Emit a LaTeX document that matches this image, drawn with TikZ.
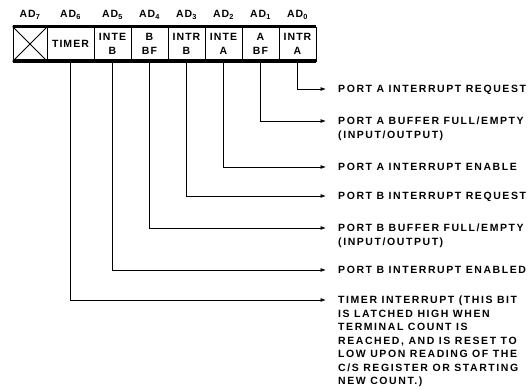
\documentclass[tikz,border=0pt]{standalone}
\usepackage{fontspec}
\setmainfont{Liberation Sans}
\newfontfamily\regfont[LetterSpace=15]{Liberation Sans}
\newfontfamily\cellfont[LetterSpace=10]{Liberation Sans}
\usetikzlibrary{arrows.meta, positioning}

\begin{document}
\begin{tikzpicture}[
    x=1pt, y=-1pt,
    bitcell/.style={
        rectangle, draw, line width=0.9pt, inner sep=0pt,
        minimum height=34pt, align=center,
        font=\cellfont\bfseries\fontsize{10.5}{14.5}\selectfont
    },
    bitname/.style={font=\cellfont\bfseries\fontsize{10.5}{12}\selectfont, inner sep=0pt},
    desc/.style={
        anchor=base west, align=left, inner sep=0pt,
        font=\regfont\bfseries\fontsize{10.5}{13.5}\selectfont
    },
    >={Latex[length=5.5pt, width=4pt]},
    wire/.style={->, line width=0.8pt}
]
\useasboundingbox (0,0) rectangle (528,390);

\node[bitcell, minimum width=34pt] (c7) at (30,    44) {};
\node[bitcell, minimum width=47pt] (c6) at (70.5,  44) {TIMER};
\node[bitcell, minimum width=37pt] (c5) at (112.5, 44) {INTE\\B};
\node[bitcell, minimum width=37pt] (c4) at (149.5, 44) {B\\BF};
\node[bitcell, minimum width=37pt] (c3) at (186.5, 44) {INTR\\B};
\node[bitcell, minimum width=37pt] (c2) at (223.5, 44) {INTE\\A};
\node[bitcell, minimum width=37pt] (c1) at (260.5, 44) {A\\BF};
\node[bitcell, minimum width=37pt] (c0) at (297.5, 44) {INTR\\A};

\node[bitname] (ad7) at (30,    15) {AD\textsubscript{7}};
\node[bitname] (ad6) at (70.5,  15) {AD\textsubscript{6}};
\node[bitname] (ad5) at (112.5, 15) {AD\textsubscript{5}};
\node[bitname] (ad4) at (149.5, 15) {AD\textsubscript{4}};
\node[bitname] (ad3) at (186.5, 15) {AD\textsubscript{3}};
\node[bitname] (ad2) at (223.5, 15) {AD\textsubscript{2}};
\node[bitname] (ad1) at (260.5, 15) {AD\textsubscript{1}};
\node[bitname] (ad0) at (297.5, 15) {AD\textsubscript{0}};

% unused bit and heavy rules
\draw[line width=0.9pt] (c7.north west) -- (c7.south east) (c7.south west) -- (c7.north east);
\draw[line width=2.5pt] (c7.north west) -- (c0.north east);
\draw[line width=4pt]   (c7.south west) -- (c0.south east);

\coordinate (e0) at (326,  89);
\coordinate (e1) at (326, 121);
\coordinate (e2) at (326, 167);
\coordinate (e3) at (326, 196);
\coordinate (e4) at (326, 228);
\coordinate (e5) at (326, 270);
\coordinate (e6) at (326, 300);

% base west sits on the last line of a block
\node[desc] (d0) at (338,  92.7) {PORT A INTERRUPT REQUEST};
\node[desc] (d1) at (338, 138.2) {PORT A BUFFER FULL/EMPTY\\(INPUT/OUTPUT)};
\node[desc] (d2) at (338, 170.7) {PORT A INTERRUPT ENABLE};
\node[desc] (d3) at (338, 199.7) {PORT B INTERRUPT REQUEST};
\node[desc] (d4) at (338, 245.2) {PORT B BUFFER FULL/EMPTY\\(INPUT/OUTPUT)};
\node[desc] (d5) at (338, 273.7) {PORT B INTERRUPT ENABLED};
\node[desc] (d6) at (338, 384.7) {TIMER INTERRUPT (THIS BIT\\IS LATCHED HIGH WHEN\\TERMINAL COUNT IS\\REACHED, AND IS RESET TO\\LOW UPON READING OF THE\\C/S REGISTER OR STARTING\\NEW COUNT.)};

\draw[wire] (c0.south) |- (e0);
\draw[wire] (c1.south) |- (e1);
\draw[wire] (c2.south) |- (e2);
\draw[wire] (c3.south) |- (e3);
\draw[wire] (c4.south) |- (e4);
\draw[wire] (c5.south) |- (e5);
\draw[wire] (c6.south) |- (e6);

\end{tikzpicture}
\end{document}
